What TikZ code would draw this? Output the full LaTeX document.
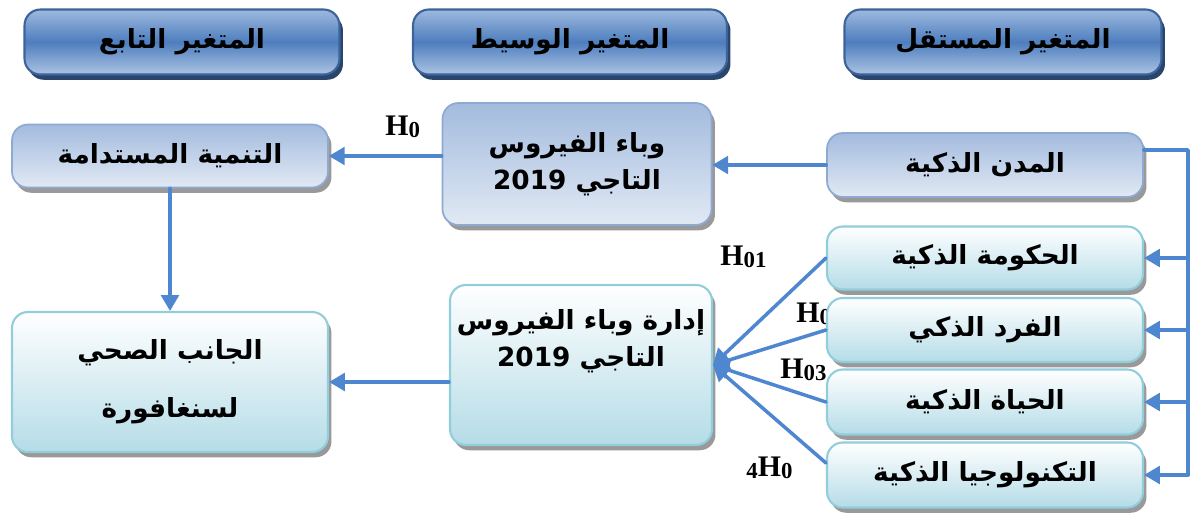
\documentclass[tikz,border=0pt]{standalone}
\usepackage{fontspec}
\TeXXeTstate=1
\newfontfamily\arabicfont[Script=Arabic]{DejaVu Sans}
\newfontfamily\hypfont{Liberation Serif}
\usetikzlibrary{arrows.meta,shadows,calc}
\definecolor{linkblue}{HTML}{4F86D0}
\definecolor{headtop}{HTML}{9DB9DE}
\definecolor{headmid}{HTML}{4E7EBE}
\definecolor{headedge}{HTML}{3C639A}
\definecolor{greytop}{HTML}{A3BBDE}
\definecolor{greybot}{HTML}{E1E9F4}
\definecolor{greyedge}{HTML}{8FAAD2}
\definecolor{cyanbot}{HTML}{B5DCE7}
\definecolor{cyanedge}{HTML}{92CDDC}
\newcommand{\ar}[1]{\beginR #1\endR}
\newcommand{\hyp}[1]{{\hypfont\bfseries H\raisebox{-1.5pt}{\fontsize{13}{13}\selectfont #1}}}
\tikzset{
  every picture/.style={line join=round, line cap=round, >=Stealth},
  arabic/.style={font=\arabicfont\bfseries\fontsize{15}{21}\selectfont, align=center},
  headbox/.style={arabic, rounded corners=9pt, draw=headedge, line width=1.2pt,
    top color=headtop, bottom color=headtop!85, middle color=headmid,
    drop shadow={shadow xshift=2pt, shadow yshift=-3pt, fill=headedge!70!black, opacity=1},
    minimum height=1.3cm},
  greybox/.style={arabic, rounded corners=9pt, draw=greyedge, line width=1pt,
    top color=greytop, bottom color=greybot,
    drop shadow={shadow xshift=2pt, shadow yshift=-3pt, fill=black!40, opacity=1}},
  cyanbox/.style={arabic, rounded corners=9pt, draw=cyanedge, line width=1.2pt,
    top color=white, bottom color=cyanbot,
    drop shadow={shadow xshift=2pt, shadow yshift=-3pt, fill=black!40, opacity=1}},
  hlabel/.style={inner sep=0pt, font=\fontsize{17}{17}\selectfont},
  link/.style={draw=linkblue, line width=2pt, -{Triangle[length=9pt,width=10pt]}},
  rail/.style={draw=linkblue, line width=2pt},
}

\begin{document}
\begin{tikzpicture}[x=0.02cm,y=-0.02cm]
\useasboundingbox (0,0) rectangle (1191,514);
% hypothesis labels (H02 sits behind its box)
\node[hlabel,anchor=base west] (h0) at (385,135) {\hyp{0}};
\node[hlabel,anchor=base west] (h1) at (720,265) {\hyp{01}};
\node[hlabel,anchor=base west] (h2) at (796,322) {\hyp{02}};
\node[hlabel,anchor=base west] (h3) at (780,378) {\hyp{03}};
\node[hlabel,anchor=base west] (h4) at (746,476) {{\hypfont\bfseries\raisebox{-1.5pt}{\fontsize{13}{13}\selectfont 4}H\raisebox{-1.5pt}{\fontsize{13}{13}\selectfont 0}}};
% headers
\node[headbox,minimum width=6.3cm] (dephead) at (182,42) {\ar{المتغير التابع}};
\node[headbox,minimum width=6.28cm] (medhead) at (570,42) {\ar{المتغير الوسيط}};
\node[headbox,minimum width=6.34cm] (indhead) at (1003,42) {\ar{المتغير المستقل}};
% boxes
\node[greybox,minimum width=6.32cm,minimum height=1.26cm] (sust) at (170,156) {\ar{التنمية المستدامة}};
\node[greybox,minimum width=5.38cm,minimum height=2.44cm] (virus) at (577,164) {\ar{وباء الفيروس}\\\ar{التاجي \beginL 2019\endL}};
\node[greybox,minimum width=6.32cm,minimum height=1.28cm] (cities) at (985,165) {\ar{المدن الذكية}};
\node[cyanbox,minimum width=6.32cm,minimum height=1.26cm] (gov) at (985,258) {\ar{الحكومة الذكية}};
\node[cyanbox,minimum width=6.32cm,minimum height=1.28cm] (indiv) at (985,330) {\ar{الفرد الذكي}};
\node[cyanbox,minimum width=6.32cm,minimum height=1.3cm] (life) at (985,402) {\ar{الحياة الذكية}};
\node[cyanbox,minimum width=6.32cm,minimum height=1.3cm] (tech) at (985,475) {\ar{التكنولوجيا الذكية}};
\node[cyanbox,minimum width=5.24cm,minimum height=3.2cm] (mgmt) at (581,365) {};
\node[arabic] (mgmttext) at (581,341) {\ar{إدارة وباء الفيروس}\\\ar{التاجي \beginL 2019\endL}};
\node[cyanbox,minimum width=6.32cm,minimum height=2.8cm] (health) at (170,382) {\ar{الجانب الصحي}\\[12pt]\ar{لسنغافورة}};
% connectors
\draw[link] (cities.west) -- (virus.east |- cities.west);
\draw[link] (virus.west |- sust.east) -- (sust.east);
\draw[link] (sust.south) -- (health.north);
\draw[link] (mgmt.west |- health.east) -- (health.east);
\coordinate (railtop) at (1188,150);
\draw[rail] (railtop -| cities.east) -- (railtop) -- (railtop |- tech.east);
\foreach \b in {gov,indiv,life,tech}
  \draw[link] (railtop |- \b.east) -- (\b.east);
\draw[link] (gov.west) -- (mgmt.east);
\draw[link] (indiv.west) -- (mgmt.east);
\draw[link] (life.west) -- (mgmt.east);
\draw[link] ($(tech.west)+(0,-12)$) -- (mgmt.east);
\end{tikzpicture}
\end{document}
